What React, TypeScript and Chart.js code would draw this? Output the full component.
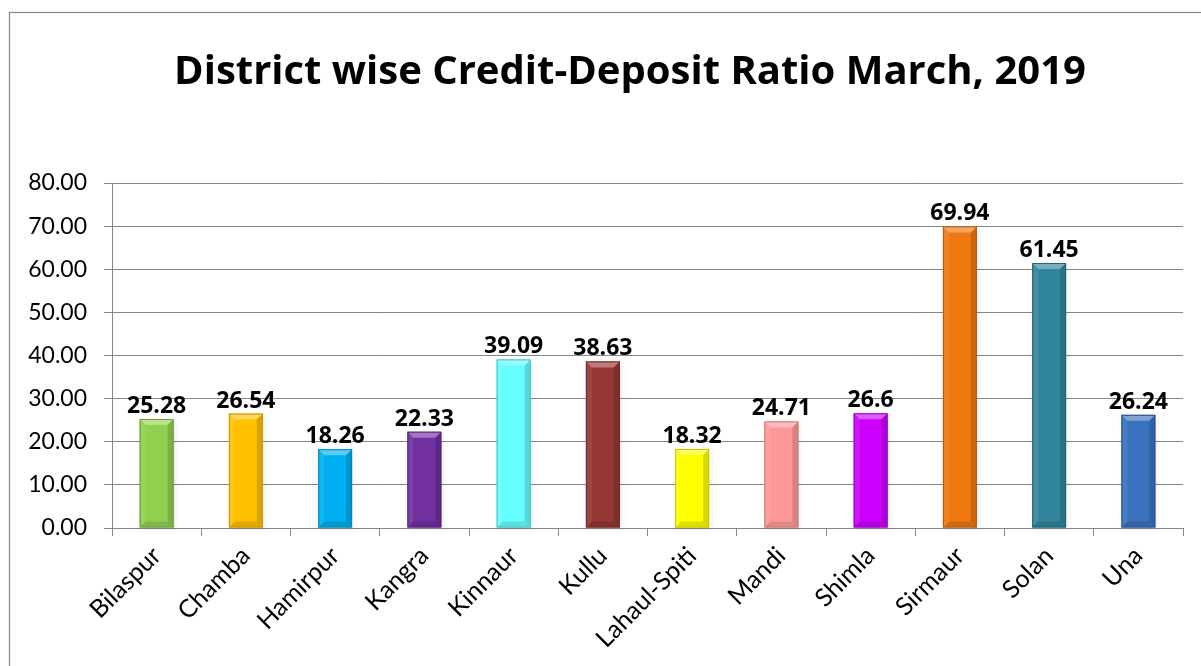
import React, { useEffect, useRef } from "react";
import { Chart, registerables } from "chart.js";

Chart.register(...registerables);

const titleText = "District wise Credit-Deposit Ratio March, 2019";
const categories = [
  "Bilaspur", "Chamba", "Hamirpur", "Kangra", "Kinnaur", "Kullu",
  "Lahaul-Spiti", "Mandi", "Shimla", "Sirmaur", "Solan", "Una",
];
const values = [25.28, 26.54, 18.26, 22.33, 39.09, 38.63, 18.32, 24.71, 26.6, 69.94, 61.45, 26.24];
const valueLabels = ["25.28", "26.54", "18.26", "22.33", "39.09", "38.63", "18.32", "24.71", "26.6", "69.94", "61.45", "26.24"];
const barColors = [
  "#92D050", "#FFC000", "#00B0F0", "#7030A0", "#66FFFF", "#953735",
  "#FFFF00", "#FF9999", "#CC00FF", "#F07810", "#31859C", "#3A72BD",
];
const barBorderColors = [
  "#6E9E3A", "#C99400", "#0088B8", "#52237A", "#3FC4C4", "#6E2624",
  "#C8C800", "#CC7A7A", "#9A00C0", "#B85A0A", "#236575", "#285591",
];
const yMin = 0;
const yMax = 80;
const yStep = 10;

const FONT = "Lato, 'Open Sans', sans-serif";
const BOLD_FONT = "'Open Sans', Lato, sans-serif";

const framePlugin = {
  id: "frame",
  beforeDraw(chart: any) {
    const ctx = chart.ctx;
    ctx.save();
    ctx.fillStyle = "#ffffff";
    ctx.fillRect(0, 0, chart.width, chart.height);
    ctx.strokeStyle = "#868686";
    ctx.lineWidth = 1.2;
    ctx.strokeRect(9.5, 12.5, 1400, 900);
    ctx.fillStyle = "#000000";
    ctx.font = `bold 40px ${BOLD_FONT}`;
    ctx.textAlign = "center";
    ctx.textBaseline = "alphabetic";
    ctx.fillText(titleText, 630, 84);
    ctx.restore();
  },
};

const shadowPlugin = {
  id: "barShadow",
  beforeDatasetsDraw(chart: any) {
    const ctx = chart.ctx;
    const meta = chart.getDatasetMeta(0);
    ctx.save();
    meta.data.forEach((el: any) => {
      const { x, y, base, width } = el.getProps(["x", "y", "base", "width"], true);
      ctx.shadowColor = "rgba(0,0,0,0.35)";
      ctx.shadowBlur = 6;
      ctx.shadowOffsetX = 2;
      ctx.shadowOffsetY = 2;
      ctx.fillStyle = "rgba(0,0,0,0.2)";
      ctx.fillRect(x - width / 2, y, width, base - y);
    });
    ctx.restore();
  },
};

const bevelPlugin = {
  id: "bevel",
  afterDatasetsDraw(chart: any) {
    const ctx = chart.ctx;
    const meta = chart.getDatasetMeta(0);
    ctx.save();
    meta.data.forEach((el: any, i: number) => {
      const { x, y, base, width } = el.getProps(["x", "y", "base", "width"], true);
      const l = x - width / 2;
      const r = x + width / 2;
      const t = y;
      const b = base;
      const bv = 6;
      ctx.beginPath();
      ctx.moveTo(l, t);
      ctx.lineTo(r, t);
      ctx.lineTo(r - bv, t + bv);
      ctx.lineTo(l + bv, t + bv);
      ctx.closePath();
      ctx.fillStyle = "rgba(255,255,255,0.35)";
      ctx.fill();
      ctx.beginPath();
      ctx.moveTo(l, b);
      ctx.lineTo(r, b);
      ctx.lineTo(r - bv, b - bv);
      ctx.lineTo(l + bv, b - bv);
      ctx.closePath();
      ctx.fillStyle = "rgba(0,0,0,0.12)";
      ctx.fill();
      ctx.beginPath();
      ctx.moveTo(l, t);
      ctx.lineTo(l + bv, t + bv);
      ctx.lineTo(l + bv, b - bv);
      ctx.lineTo(l, b);
      ctx.closePath();
      ctx.fillStyle = "rgba(255,255,255,0.08)";
      ctx.fill();
      ctx.beginPath();
      ctx.moveTo(r, t);
      ctx.lineTo(r - bv, t + bv);
      ctx.lineTo(r - bv, b - bv);
      ctx.lineTo(r, b);
      ctx.closePath();
      ctx.fillStyle = "rgba(0,0,0,0.15)";
      ctx.fill();
      ctx.strokeStyle = barBorderColors[i];
      ctx.lineWidth = 1;
      ctx.strokeRect(l + 0.5, t + 0.5, width - 1, b - t - 1);
      ctx.fillStyle = "#000000";
      ctx.font = `bold 23px ${BOLD_FONT}`;
      ctx.textAlign = "center";
      ctx.textBaseline = "alphabetic";
      ctx.fillText(valueLabels[i], x, t - 6);
    });
    ctx.restore();
  },
};

export default function App() {
  const canvasRef = useRef<HTMLCanvasElement | null>(null);

  useEffect(() => {
    if (!canvasRef.current) return;
    const chart = new Chart(canvasRef.current, {
      type: "bar",
      data: {
        labels: categories,
        datasets: [
          {
            data: values,
            backgroundColor: barColors,
            borderWidth: 0,
            barPercentage: 0.38,
            categoryPercentage: 1,
          },
        ],
      },
      options: {
        responsive: false,
        animation: false,
        devicePixelRatio: 1,
        layout: { padding: { top: 183, right: 18, left: 0, bottom: 0 } },
        plugins: {
          legend: { display: false },
          title: { display: false },
          tooltip: { enabled: false },
        },
        scales: {
          x: {
            grid: {
              display: true,
              drawOnChartArea: false,
              drawTicks: true,
              tickLength: 8,
              color: "#868686",
              offset: true,
            },
            border: { display: true, color: "#868686", width: 1 },
            ticks: {
              color: "#000000",
              font: { family: FONT, size: 25 },
              minRotation: 45,
              maxRotation: 45,
              autoSkip: false,
              padding: 5,
            },
            afterFit(scale: any) {
              scale.height = 138;
            },
          },
          y: {
            min: yMin,
            max: yMax,
            grid: {
              color: "#868686",
              lineWidth: 1,
              tickLength: 8,
              drawTicks: true,
            },
            border: { display: true, color: "#868686", width: 1 },
            ticks: {
              stepSize: yStep,
              color: "#000000",
              font: { family: FONT, size: 23 },
              padding: 17,
              callback: (v: any) => Number(v).toFixed(2),
            },
            afterFit(scale: any) {
              scale.width = 112;
            },
          },
        },
      },
      plugins: [framePlugin, shadowPlugin, bevelPlugin],
    });
    return () => chart.destroy();
  }, []);

  return (
    <div style={{ position: "absolute", left: 0, top: 0, width: 1201, height: 666, overflow: "hidden", background: "#fff" }}>
      <canvas ref={canvasRef} width={1201} height={666} style={{ display: "block" }} />
    </div>
  );
}
